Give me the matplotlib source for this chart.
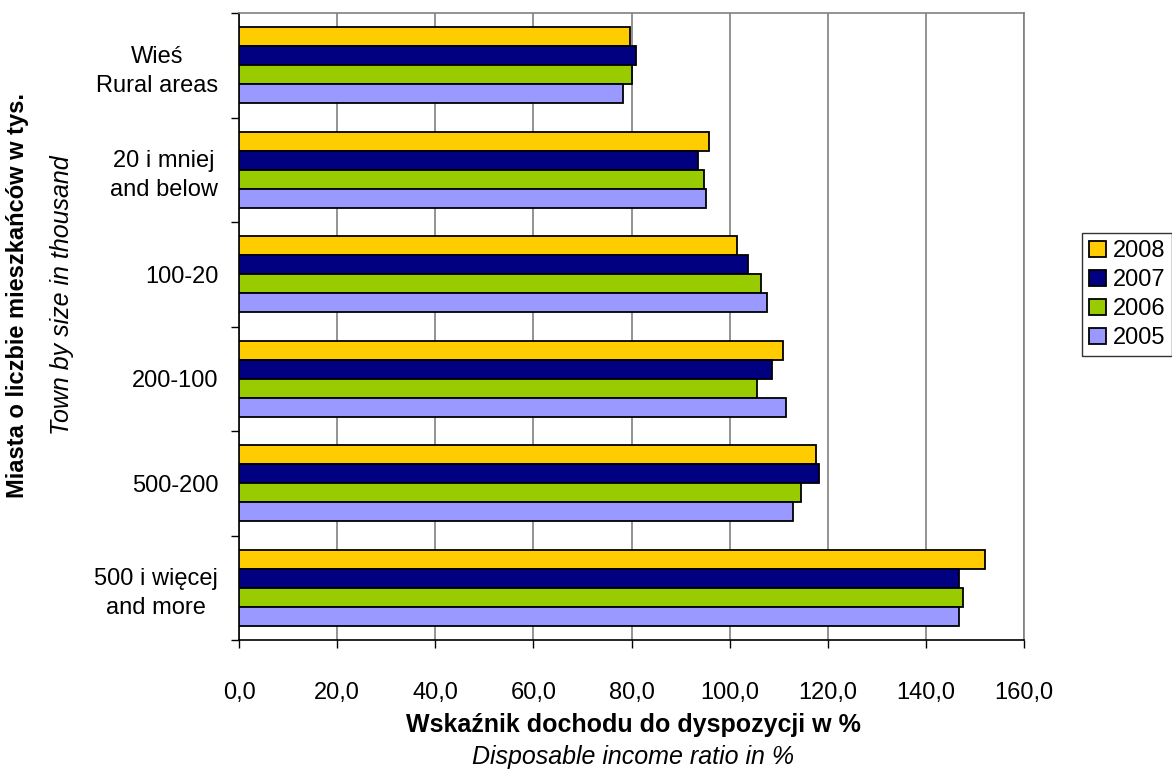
import matplotlib
matplotlib.use("Agg")
import matplotlib.pyplot as plt
import numpy as np

plt.rcParams['font.family'] = ['Liberation Sans', 'DejaVu Sans']

categories = ["Wieś\nRural areas", "20 i mniej\nand below", "100-20", "200-100",
              "500-200", "500 i więcej\nand more"]
years = ["2008", "2007", "2006", "2005"]
v2008 = [79.7, 95.8, 101.5, 110.9, 117.6, 152.1]
v2007 = [80.9, 93.6, 103.7, 108.6, 118.2, 146.8]
v2006 = [80.1, 94.8, 106.4, 105.6, 114.6, 147.6]
v2005 = [78.3, 95.2, 107.6, 111.5, 112.9, 146.8]
series = [v2008, v2007, v2006, v2005]
colors = ["#FFCC00", "#000080", "#99CC00", "#9999FF"]
xticks = [0, 20, 40, 60, 80, 100, 120, 140, 160]

FS = 17

fig = plt.figure(figsize=(11.72, 7.70), dpi=100)
ax = fig.add_axes([239/1172, 1 - 640/770, (1024-239)/1172, (640-13)/770])

n = len(categories)
bh = 0.1825
ypos = np.arange(n)
for i, (vals, c, y) in enumerate(zip(series, colors, years)):
    offs = (i - 1.5) * bh
    ax.barh(ypos + offs, vals, height=bh, color=c, edgecolor='black', linewidth=1.3,
            label=y, zorder=3)

ax.set_ylim(n - 0.5, -0.5)
ax.set_xlim(0, 160)
ax.set_xticks(xticks)
ax.set_xticklabels([f"{t:.1f}".replace('.', ',') for t in xticks], fontsize=FS)
ax.set_yticks(ypos)
ax.set_yticklabels(categories, fontsize=FS, multialignment='center', linespacing=1.4)
ax.tick_params(axis='y', length=0, pad=15)
ax.set_yticks(np.arange(n + 1) - 0.5, minor=True)
ax.tick_params(axis='y', which='minor', length=6, width=1, color='black')
ax.tick_params(axis='x', length=6, width=1, pad=24)
ax.xaxis.grid(True, color='#808080', linewidth=1.2, zorder=0)
ax.set_axisbelow(True)
for s in ['top', 'right']:
    ax.spines[s].set_color('#808080')
    ax.spines[s].set_linewidth(1.2)
for s in ['left', 'bottom']:
    ax.spines[s].set_color('black')
    ax.spines[s].set_linewidth(1.2)

fig.text(633/1172, 1 - 725/770, "Wskaźnik dochodu do dyspozycji w %", fontsize=FS + 1,
         fontweight='bold', ha='center', va='center')
fig.text(633/1172, 1 - 757/770, "Disposable income ratio in %", fontsize=FS + 1,
         style='italic', ha='center', va='center')
fig.text(18/1172, 1 - 295/770, "Miasta o liczbie mieszkańców w tys.", fontsize=FS,
         fontweight='bold', rotation=90, ha='center', va='center')
fig.text(62/1172, 1 - 295/770, "Town by size in thousand", fontsize=FS + 1,
         style='italic', rotation=90, ha='center', va='center')

leg = fig.legend(loc='upper left', bbox_to_anchor=(1082/1172, 1 - 233/770), fontsize=FS,
                 frameon=True, fancybox=False, edgecolor='black', handlelength=0.7,
                 handleheight=0.7, handletextpad=0.3, borderpad=0.3, labelspacing=0.3,
                 borderaxespad=0)
leg.get_frame().set_linewidth(1.0)

fig.savefig("out.png", dpi=100, facecolor='white')
